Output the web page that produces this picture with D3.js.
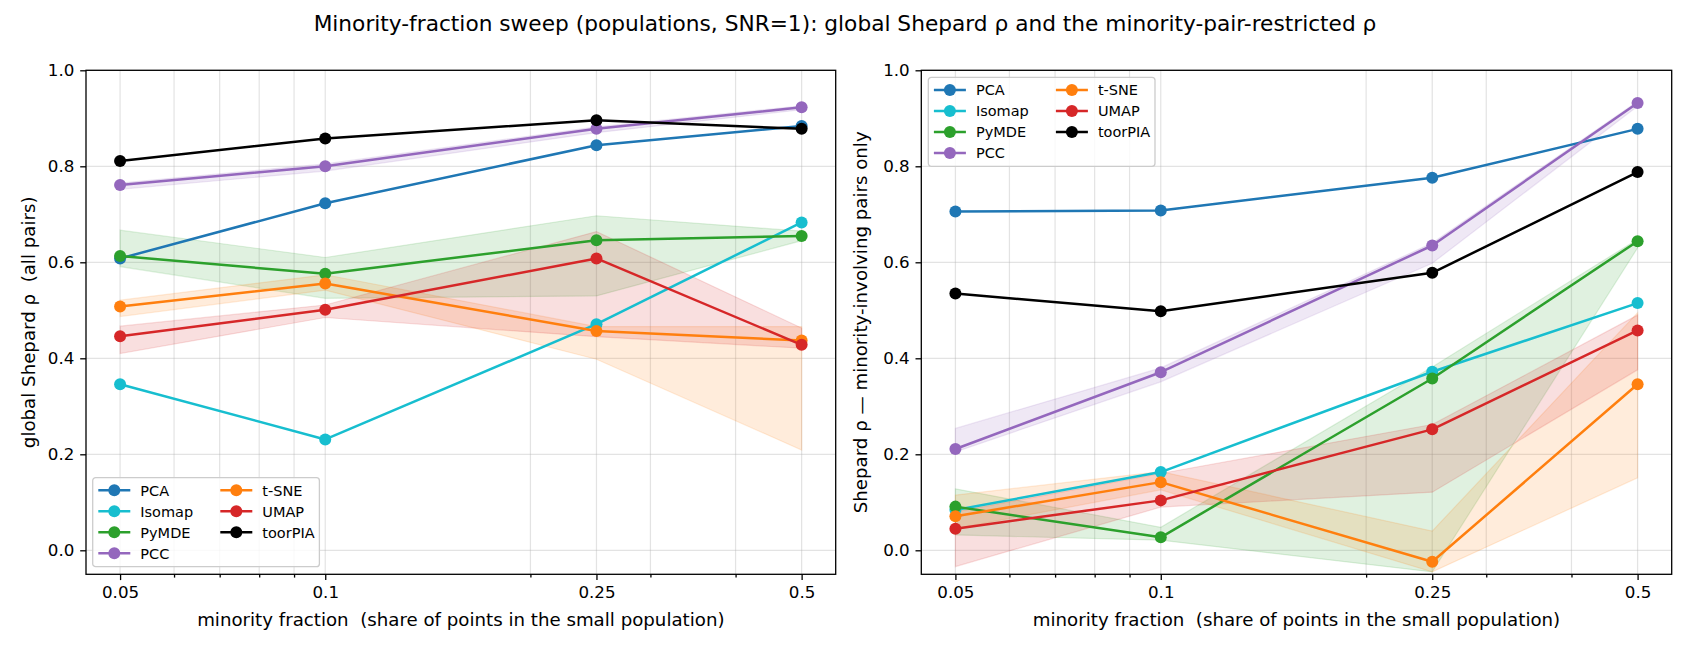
<!DOCTYPE html>
<html>
<head>
<meta charset="utf-8">
<script src="https://cdn.jsdelivr.net/npm/d3@7"></script>
<style>
  html, body { margin: 0; padding: 0; background: #fff; }
  svg { display: block; }
  text { font-family: "DejaVu Sans", sans-serif; fill: #000; white-space: pre; }
</style>
</head>
<body>
<svg id="chart" width="1690" height="650"></svg>
<script>
// ---------- data ----------
const fractions = [0.05, 0.1, 0.25, 0.5];
const xTickLabels = ["0.05", "0.1", "0.25", "0.5"];
const xMinorTicks = [0.06, 0.07, 0.08, 0.09, 0.2, 0.3, 0.4];
const yTicks = [0.0, 0.2, 0.4, 0.6, 0.8, 1.0];
const yTickLabels = ["0.0", "0.2", "0.4", "0.6", "0.8", "1.0"];

const methods = ["PCA", "Isomap", "PyMDE", "PCC", "t-SNE", "UMAP", "toorPIA"];
const colors  = ["#1f77b4", "#17becf", "#2ca02c", "#9467bd", "#ff7f0e", "#d62728", "#000000"];

// global Shepard rho (all pairs)
const pcaG    = [0.608, 0.723, 0.844, 0.884];
const isomapG = [0.346, 0.231, 0.471, 0.683];
const pymdeG  = [0.613, 0.576, 0.646, 0.655];
const pccG    = [0.761, 0.800, 0.878, 0.923];
const tsneG   = [0.508, 0.556, 0.457, 0.437];
const umapG   = [0.446, 0.501, 0.608, 0.428];
const toorG   = [0.811, 0.858, 0.896, 0.878];
// spread bands (low / high)
const pymdeGLo = [0.591, 0.525, 0.530, 0.645], pymdeGHi = [0.667, 0.610, 0.697, 0.665];
const pccGLo   = [0.752, 0.790, 0.870, 0.918], pccGHi   = [0.765, 0.805, 0.882, 0.926];
const tsneGLo  = [0.487, 0.542, 0.398, 0.209], tsneGHi  = [0.521, 0.574, 0.466, 0.466];
const umapGLo  = [0.410, 0.485, 0.445, 0.421], umapGHi  = [0.467, 0.511, 0.664, 0.463];

// minority-pair-restricted rho
const pcaM    = [0.706, 0.708, 0.776, 0.878];
const isomapM = [0.084, 0.163, 0.372, 0.515];
const pymdeM  = [0.091, 0.027, 0.358, 0.644];
const pccM    = [0.211, 0.371, 0.635, 0.932];
const tsneM   = [0.071, 0.142, -0.024, 0.346];
const umapM   = [0.045, 0.104, 0.252, 0.458];
const toorM   = [0.535, 0.498, 0.578, 0.788];
const pymdeMLo = [0.032, 0.021, -0.045, 0.630], pymdeMHi = [0.128, 0.048, 0.382, 0.648];
const pccMLo   = [0.205, 0.351, 0.598, 0.925], pccMHi   = [0.254, 0.380, 0.640, 0.935];
const tsneMLo  = [0.045, 0.126, -0.045, 0.151], tsneMHi  = [0.115, 0.164, 0.040, 0.495];
const umapMLo  = [-0.034, 0.090, 0.121, 0.376], umapMHi  = [0.080, 0.160, 0.262, 0.490];

const title = "Minority-fraction sweep (populations, SNR=1): global Shepard \u03c1 and the minority-pair-restricted \u03c1";
const xLabel = "minority fraction  (share of points in the small population)";

const panels = [
  {
    left: 86, right: 835.7, ylabel: "global Shepard \u03c1  (all pairs)", ylabelX: 35,
    series: [pcaG, isomapG, pymdeG, pccG, tsneG, umapG, toorG],
    bands: [null, null, [pymdeGLo, pymdeGHi], [pccGLo, pccGHi], [tsneGLo, tsneGHi], [umapGLo, umapGHi], null],
    legend: { x: 92.7, y: 477.7 }
  },
  {
    left: 921.3, right: 1671.7, ylabel: "Shepard \u03c1 \u2014 minority-involving pairs only", ylabelX: 867,
    series: [pcaM, isomapM, pymdeM, pccM, tsneM, umapM, toorM],
    bands: [null, null, [pymdeMLo, pymdeMHi], [pccMLo, pccMHi], [tsneMLo, tsneMHi], [umapMLo, umapMHi], null],
    legend: { x: 928.3, y: 77.3 }
  }
];

const plotTop = 70.3, plotBottom = 574.3;
const svg = d3.select("#chart");

svg.append("text").attr("x", 845).attr("y", 31).attr("text-anchor", "middle")
  .style("font-size", "21.7px").text(title);

panels.forEach((p) => {
  const x = d3.scaleLog().domain([0.05 * Math.pow(10, -0.05), 0.5 * Math.pow(10, 0.05)]).range([p.left, p.right]);
  const y = d3.scaleLinear().domain([-0.05, 1.0]).range([plotBottom, plotTop]);
  const g = svg.append("g");

  // grid
  const grid = g.append("g").attr("stroke", "#b0b0b0").attr("stroke-opacity", 0.35).attr("stroke-width", 1.2);
  fractions.concat(xMinorTicks).forEach(v => {
    grid.append("line").attr("x1", x(v)).attr("x2", x(v)).attr("y1", plotTop).attr("y2", plotBottom);
  });
  yTicks.forEach(v => {
    grid.append("line").attr("x1", p.left).attr("x2", p.right).attr("y1", y(v)).attr("y2", y(v));
  });

  // bands + lines
  const clipId = "clip" + Math.round(p.left);
  g.append("clipPath").attr("id", clipId).append("rect")
    .attr("x", p.left).attr("y", plotTop).attr("width", p.right - p.left).attr("height", plotBottom - plotTop);
  const plot = g.append("g").attr("clip-path", `url(#${clipId})`);
  const area = d3.area().x((d, i) => x(fractions[i])).y0(d => y(d[0])).y1(d => y(d[1]));
  const line = d3.line().x((d, i) => x(fractions[i])).y(d => y(d));
  p.series.forEach((s, k) => {
    const b = p.bands[k];
    if (b) {
      plot.append("path").datum(b[0].map((lo, i) => [lo, b[1][i]])).attr("d", area)
        .attr("fill", colors[k]).attr("fill-opacity", 0.15)
        .attr("stroke", colors[k]).attr("stroke-opacity", 0.15).attr("stroke-width", 1.2);
    }
  });
  p.series.forEach((s, k) => {
    plot.append("path").datum(s).attr("d", line).attr("fill", "none")
      .attr("stroke", colors[k]).attr("stroke-width", 2.5).attr("stroke-linejoin", "round");
    plot.selectAll(null).data(s).enter().append("circle")
      .attr("cx", (d, i) => x(fractions[i])).attr("cy", d => y(d)).attr("r", 6).attr("fill", colors[k]);
  });

  // axes
  const xAxis = d3.axisBottom(x).tickValues(fractions).tickFormat((d, i) => xTickLabels[i]).tickSize(5.8).tickPadding(5.8);
  const xa = g.append("g").attr("transform", `translate(0,${plotBottom})`).call(xAxis);
  const xMinor = d3.axisBottom(x).tickValues(xMinorTicks).tickFormat("").tickSize(3.3);
  const xm = g.append("g").attr("transform", `translate(0,${plotBottom})`).call(xMinor);
  const yAxis = d3.axisLeft(y).tickValues(yTicks).tickFormat((d, i) => yTickLabels[i]).tickSize(5.8).tickPadding(5.8);
  const ya = g.append("g").attr("transform", `translate(${p.left},0)`).call(yAxis);
  [xa, xm, ya].forEach(a => {
    a.select(".domain").remove();
    a.selectAll("line").attr("stroke", "#000").attr("stroke-width", 1.3);
    a.selectAll("text").style("font-size", "16.7px").style("font-family", "DejaVu Sans").attr("fill", "#000");
  });

  // frame
  g.append("rect").attr("x", p.left).attr("y", plotTop).attr("width", p.right - p.left).attr("height", plotBottom - plotTop)
    .attr("fill", "none").attr("stroke", "#000").attr("stroke-width", 1.3);

  // axis labels
  g.append("text").attr("x", (p.left + p.right) / 2).attr("y", 626).attr("text-anchor", "middle")
    .style("font-size", "18.2px").text(xLabel);
  g.append("text").attr("transform", `translate(${p.ylabelX},${(plotTop + plotBottom) / 2}) rotate(-90)`)
    .attr("text-anchor", "middle").style("font-size", "18.2px").text(p.ylabel);

  // legend
  const lg = g.append("g").attr("transform", `translate(${p.legend.x},${p.legend.y})`);
  lg.append("rect").attr("x", 0).attr("y", 0).attr("width", 226.7).attr("height", 89).attr("rx", 3)
    .attr("fill", "#fff").attr("fill-opacity", 0.8).attr("stroke", "#cccccc").attr("stroke-width", 1.3);
  methods.forEach((m, k) => {
    const col = k < 4 ? 0 : 1, row = k < 4 ? k : k - 4;
    const ex = 5.6 + col * 122, ey = 12.6 + row * 21;
    lg.append("line").attr("x1", ex).attr("x2", ex + 32).attr("y1", ey).attr("y2", ey)
      .attr("stroke", colors[k]).attr("stroke-width", 2.5);
    lg.append("circle").attr("cx", ex + 16).attr("cy", ey).attr("r", 6).attr("fill", colors[k]);
    lg.append("text").attr("x", ex + 42).attr("y", ey).attr("dy", "0.36em")
      .style("font-size", "14.5px").text(m);
  });
});
</script>
</body>
</html>
